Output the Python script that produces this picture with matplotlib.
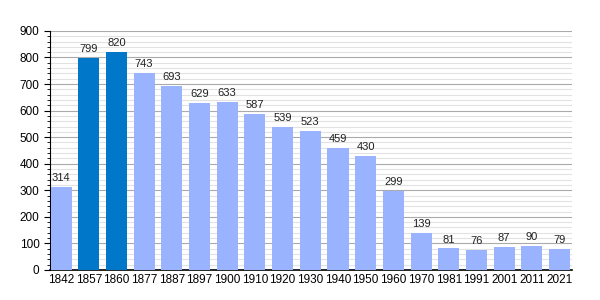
import matplotlib
matplotlib.use("Agg")
import matplotlib.pyplot as plt
from matplotlib.ticker import MultipleLocator

plt.rcParams['font.family'] = ['Liberation Sans', 'DejaVu Sans']

years = ["1842", "1857", "1860", "1877", "1887", "1897", "1900", "1910", "1920", "1930",
         "1940", "1950", "1960", "1970", "1981", "1991", "2001", "2011", "2021"]
population = [314, 799, 820, 743, 693, 629, 633, 587, 539, 523,
              459, 430, 299, 139, 81, 76, 87, 90, 79]
highlight = ["1857", "1860"]

light = "#99b3ff"
dark = "#0077c8"
colors = [dark if y in highlight else light for y in years]

fig = plt.figure(figsize=(6, 3), dpi=100)
ax = fig.add_axes([0.0833, 0.1, 0.87, 0.797])

x = range(len(years))
bars = ax.bar(x, population, width=0.76, color=colors, zorder=3)
for b, v in zip(bars, population):
    ax.text(b.get_x() + b.get_width() / 2, v + 14, str(v), ha="center", va="bottom",
            fontsize=8, color="#222222", zorder=4)

ax.set_xlim(-0.4, 18.45)
ax.set_ylim(0, 900)
ax.set_xticks(list(x))
ax.set_xticklabels(years, fontsize=8.5)
ax.yaxis.set_major_locator(MultipleLocator(100))
ax.yaxis.set_minor_locator(MultipleLocator(20))
ax.tick_params(axis="y", labelsize=8.5, length=4, width=0.8, which="major")
ax.tick_params(axis="y", length=2, width=0.6, which="minor")
ax.tick_params(axis="x", length=0, pad=3)

ax.grid(axis="y", which="major", color="#aaaaaa", linewidth=0.8, zorder=0)
ax.grid(axis="y", which="minor", color="#e2e2e2", linewidth=0.8, zorder=0)

for s in ["top", "right"]:
    ax.spines[s].set_visible(False)
ax.spines["left"].set_color("black")
ax.spines["bottom"].set_color("black")
ax.spines["bottom"].set_linewidth(1.2)

fig.savefig("out.png", dpi=100)
